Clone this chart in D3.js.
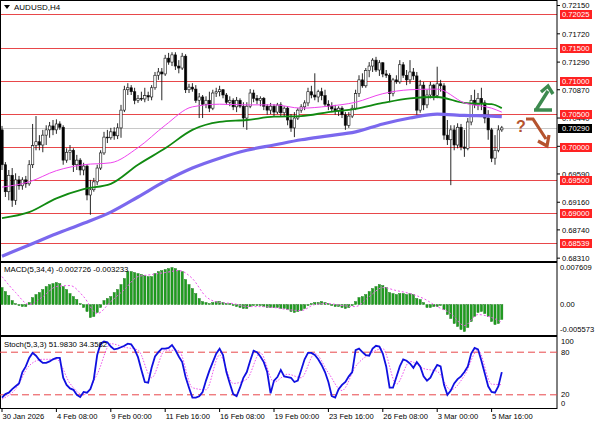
<!DOCTYPE html>
<meta charset="utf-8">
<style>
body { margin: 0; background: #fff; }
svg { display: block; font-family: "Liberation Sans", Arial, sans-serif; }
.lbl { font-size: 7.6px; fill: #000; }
.frame { fill: none; stroke: #000; stroke-width: 1; }
</style>
<body>
<svg id="chart" width="596" height="425"></svg>
<script src="https://d3js.org/d3.v7.min.js"></script>
<script>

// ---- data ----
const open0 = 0.7026;

const closes = [
0.6973, 0.6932, 0.6957, 0.6919, 0.6950, 0.6941, 0.6950, 0.6944, 0.6973, 0.7002,
0.7008, 0.7003, 0.7018, 0.7026, 0.7032, 0.7026, 0.7035, 0.7030, 0.6980, 0.6992,
0.6995, 0.6973, 0.6980, 0.6965, 0.6971, 0.6927, 0.6935, 0.6947, 0.6968, 0.6991,
0.7015, 0.7014, 0.7023, 0.7017, 0.7029, 0.7056, 0.7087, 0.7090, 0.7084, 0.7071,
0.7074, 0.7073, 0.7078, 0.7076, 0.7090, 0.7109, 0.7114, 0.7111, 0.7135, 0.7129,
0.7140, 0.7123, 0.7120, 0.7138, 0.7087, 0.7091, 0.7088, 0.7071, 0.7076, 0.7065,
0.7071, 0.7059, 0.7082, 0.7084, 0.7087, 0.7079, 0.7068, 0.7071, 0.7061, 0.7071,
0.7062, 0.7044, 0.7062, 0.7082, 0.7074, 0.7071, 0.7074, 0.7062, 0.7056, 0.7062,
0.7053, 0.7064, 0.7052, 0.7059, 0.7041, 0.7029, 0.7044, 0.7056, 0.7061, 0.7067,
0.7084, 0.7079, 0.7076, 0.7084, 0.7078, 0.7065, 0.7062, 0.7058, 0.7055, 0.7059,
0.7049, 0.7033, 0.7047, 0.7059, 0.7081, 0.7102, 0.7093, 0.7116, 0.7123, 0.7132,
0.7117, 0.7128, 0.7111, 0.7109, 0.7081, 0.7102, 0.7099, 0.7125, 0.7109, 0.7102,
0.7114, 0.7108, 0.7056, 0.7094, 0.7064, 0.7079, 0.7094, 0.7078, 0.7096, 0.7093,
0.7018, 0.7011, 0.7026, 0.7003, 0.7030, 0.7000, 0.6998, 0.7038, 0.7071, 0.7064,
0.7074, 0.7067, 0.7044, 0.7026, 0.6983, 0.6995, 0.7026, 0.7029
];

const highs = [
0.7032, 0.6977, 0.6965, 0.6968, 0.6960, 0.6956, 0.6954, 0.6956, 0.6980, 0.7035,
0.7047, 0.7018, 0.7026, 0.7033, 0.7038, 0.7041, 0.7042, 0.7039, 0.7033, 0.6998,
0.7003, 0.6998, 0.6988, 0.6983, 0.6976, 0.6974, 0.6950, 0.6953, 0.6973, 0.6995,
0.7023, 0.7026, 0.7029, 0.7030, 0.7036, 0.7064, 0.7093, 0.7097, 0.7094, 0.7090,
0.7079, 0.7084, 0.7090, 0.7084, 0.7094, 0.7114, 0.7120, 0.7120, 0.7140, 0.7143,
0.7144, 0.7144, 0.7132, 0.7143, 0.7141, 0.7096, 0.7097, 0.7094, 0.7082, 0.7079,
0.7077, 0.7084, 0.7087, 0.7090, 0.7093, 0.7088, 0.7082, 0.7077, 0.7074, 0.7076,
0.7074, 0.7068, 0.7068, 0.7088, 0.7087, 0.7079, 0.7077, 0.7076, 0.7065, 0.7067,
0.7065, 0.7067, 0.7068, 0.7062, 0.7062, 0.7050, 0.7053, 0.7059, 0.7065, 0.7071,
0.7090, 0.7093, 0.7112, 0.7087, 0.7090, 0.7087, 0.7071, 0.7068, 0.7064, 0.7062,
0.7062, 0.7053, 0.7053, 0.7064, 0.7087, 0.7109, 0.7112, 0.7120, 0.7129, 0.7135,
0.7137, 0.7132, 0.7129, 0.7117, 0.7112, 0.7105, 0.7109, 0.7132, 0.7129, 0.7117,
0.7132, 0.7120, 0.7114, 0.7102, 0.7099, 0.7087, 0.7099, 0.7096, 0.7122, 0.7102,
0.7097, 0.7041, 0.7033, 0.7033, 0.7036, 0.7035, 0.7026, 0.7044, 0.7079, 0.7087,
0.7082, 0.7090, 0.7071, 0.7056, 0.7029, 0.7018, 0.7033, 0.7032
];

const lows = [
0.6965, 0.6924, 0.6919, 0.6909, 0.6912, 0.6935, 0.6935, 0.6938, 0.6941, 0.6968,
0.6995, 0.6995, 0.6992, 0.7003, 0.7014, 0.7018, 0.7020, 0.7026, 0.6973, 0.6976,
0.6980, 0.6962, 0.6965, 0.6957, 0.6957, 0.6919, 0.6897, 0.6932, 0.6942, 0.6965,
0.6988, 0.7006, 0.7011, 0.7011, 0.7012, 0.7014, 0.7053, 0.7079, 0.7079, 0.7065,
0.7067, 0.7070, 0.7068, 0.7070, 0.7071, 0.7087, 0.7102, 0.7071, 0.7108, 0.7125,
0.7123, 0.7117, 0.7112, 0.7117, 0.7082, 0.7082, 0.7084, 0.7067, 0.7044, 0.7044,
0.7059, 0.7053, 0.7056, 0.7076, 0.7077, 0.7074, 0.7064, 0.7062, 0.7056, 0.7053,
0.7059, 0.7030, 0.7026, 0.7059, 0.7068, 0.7065, 0.7062, 0.7056, 0.7049, 0.7050,
0.7047, 0.7050, 0.7047, 0.7046, 0.7033, 0.7023, 0.7015, 0.7041, 0.7052, 0.7056,
0.7062, 0.7074, 0.7071, 0.7068, 0.7071, 0.7062, 0.7056, 0.7053, 0.7049, 0.7047,
0.7044, 0.7026, 0.7029, 0.7044, 0.7056, 0.7076, 0.7090, 0.7090, 0.7106, 0.7114,
0.7114, 0.7108, 0.7106, 0.7105, 0.7068, 0.7077, 0.7096, 0.7096, 0.7105, 0.7094,
0.7096, 0.7102, 0.7049, 0.7052, 0.7056, 0.7059, 0.7074, 0.7071, 0.7074, 0.7084,
0.7011, 0.7003, 0.6942, 0.6995, 0.6998, 0.6995, 0.6985, 0.6995, 0.7033, 0.7059,
0.7056, 0.7056, 0.7036, 0.7011, 0.6977, 0.6973, 0.6992, 0.7023
];

// moving averages, sampled every 8 bars (+ last bar)
const maBars = [0, 8, 16, 24, 32, 40, 48, 56, 64, 72, 80, 88, 96, 104, 112, 120, 128, 136, 144, 147];
const maFast = [0.6939, 0.6947, 0.6964, 0.6973, 0.6976, 0.6999, 0.7033, 0.7061, 0.7065, 0.7064,
                0.7064, 0.7059, 0.7062, 0.7068, 0.7081, 0.7087, 0.7088, 0.7067, 0.7059, 0.7053];
const maMid  = [0.6892, 0.6901, 0.6922, 0.6936, 0.6944, 0.6973, 0.6998, 0.7026, 0.7038, 0.7041,
                0.7046, 0.7047, 0.7053, 0.7058, 0.7067, 0.7074, 0.7076, 0.7067, 0.7065, 0.7059];
const maSlow = [0.6834, 0.6851, 0.6868, 0.6884, 0.6901, 0.6924, 0.6948, 0.6968, 0.6983, 0.6995,
                0.7003, 0.7011, 0.7017, 0.7023, 0.7035, 0.7044, 0.7050, 0.7048, 0.7047, 0.7046];

const levels = [0.72025, 0.71500, 0.71000, 0.70500, 0.70000, 0.69500, 0.69000, 0.68539];
const priceTicks = [0.72150, 0.71720, 0.71290, 0.70870, 0.70440, 0.70010, 0.69590, 0.69160, 0.68740, 0.68310];
const lastPrice = 0.70290;

const macdHist = [
 0.00311, 0.00238, 0.00165, 0.00073, 0.00018,-0.00018,-0.00037,-0.00037, 0.00037, 0.00128,
 0.00183, 0.00220, 0.00275, 0.00329, 0.00366, 0.00384, 0.00403, 0.00384, 0.00329, 0.00275,
 0.00201, 0.00146, 0.00092, 0.00018,-0.00055,-0.00128,-0.00238,-0.00220,-0.00146,-0.00055,
 0.00073, 0.00110, 0.00146, 0.00220, 0.00275, 0.00366, 0.00476, 0.00604, 0.00604, 0.00586,
 0.00567, 0.00549, 0.00531, 0.00512, 0.00512, 0.00567, 0.00604, 0.00622, 0.00641, 0.00659,
 0.00677, 0.00659, 0.00622, 0.00604, 0.00458, 0.00366, 0.00293, 0.00201, 0.00110, 0.00055,
 0.00037, 0.00018, 0.00037, 0.00055, 0.00055, 0.00037, 0.00018, 0.00018,-0.00018,-0.00037,
-0.00055,-0.00073,-0.00073,-0.00037,-0.00018,-0.00018,-0.00018,-0.00037,-0.00055,-0.00055,
-0.00055,-0.00055,-0.00073,-0.00073,-0.00092,-0.00128,-0.00146,-0.00128,-0.00110,-0.00073,
-0.00018, 0.00018, 0.00037, 0.00037, 0.00055, 0.00037, 0.00018,-0.00018,-0.00037,-0.00037,
-0.00055,-0.00073,-0.00055,-0.00018, 0.00055, 0.00128, 0.00146, 0.00183, 0.00238, 0.00293,
 0.00329, 0.00366, 0.00348, 0.00311, 0.00220, 0.00201, 0.00183, 0.00201, 0.00201, 0.00183,
 0.00201, 0.00183, 0.00110, 0.00092, 0.00037,-0.00055,-0.00055,-0.00037,-0.00037,-0.00018,
-0.00092,-0.00183,-0.00256,-0.00348,-0.00403,-0.00458,-0.00494,-0.00421,-0.00311,-0.00220,
-0.00146,-0.00128,-0.00165,-0.00220,-0.00311,-0.00366,-0.00348,-0.002726
];

// signal lines sampled every 4 bars (+ last bar)
const sigBars = d3.range(0, 145, 4).concat([147]);
const macdSignal = [0.00512, 0.00220, 0, 0.00146, 0.00329, 0.00348, 0.00146, -0.00165, 0.00055, 0.00275,
  0.00512, 0.00549, 0.00586, 0.00622, 0.00476, 0.00146, 0.00037, 0.00018, -0.00037, -0.00037,
  -0.00055, -0.00092, -0.00110, 0, 0.00018, -0.00018, -0.00037, 0.00146, 0.00311, 0.00256,
  0.00201, 0.00110, -0.00037, -0.00165, -0.00384, -0.00183, -0.00238, -0.003233];

const stochMain = [
16,21,23,28,32,36,52,60,72,79,
75,69,65,65,67,70,72,72,44,34,
29,27,20,17,24,23,28,42,76,92,
95,94,88,84,85,87,89,92,91,84,
73,55,38,37,58,74,80,85,85,86,
90,83,74,66,45,30,16,16,18,24,
40,54,66,78,85,76,52,36,21,18,
30,44,52,68,82,80,74,66,52,22,
40,45,55,46,45,44,38,40,55,70,
79,79,76,70,62,52,38,18,16,28,
34,38,46,52,83,85,80,76,75,85,
89,88,78,60,30,30,45,60,70,68,
64,58,66,60,46,40,44,54,62,60,
34,20,26,36,42,46,52,60,78,86,
84,68,50,32,24,23,32,51.983
];
const stochSignal = [14, 28, 61, 70, 70, 36, 20, 49, 92, 87, 83, 44, 83, 82, 30, 27, 76, 36, 42, 79,
  38, 49, 44, 78, 51, 26, 60, 77, 85, 35, 67, 57, 53, 27, 47, 83, 35, 34.3582];

const timeBars = [0, 16, 32, 48, 64, 80, 96, 112, 128, 144];
const timeLabels = ["30 Jan 2026", "4 Feb 08:00", "9 Feb 00:00", "11 Feb 16:00", "16 Feb 08:00",
  "19 Feb 00:00", "23 Feb 16:00", "26 Feb 08:00", "3 Mar 00:00", "5 Mar 16:00"];

// ---- layout ----
const plotRight = 557;
const main = {top: 0, bottom: 261};
const macdP = {top: 263, bottom: 335};
const stochP = {top: 337, bottom: 408};

const svg = d3.select("#chart");
const n = closes.length;

const x = d3.scaleLinear().domain([0, n - 1]).range([2, 501.8]);
const y = d3.scaleLinear().domain([0.68267, 0.72234]).range([main.bottom, main.top]);
const yMacd = d3.scaleLinear().domain([-0.005573, 0.007609]).range([macdP.bottom, macdP.top]);
const yStoch = d3.scaleLinear().domain([0, 100]).range([stochP.bottom + 1, stochP.top + 1]);

const bars = closes.map((c, i) => ({
  i: i, o: i === 0 ? open0 : closes[i - 1], h: highs[i], l: lows[i], c: c
}));

// clip for the main window
svg.append("clipPath").attr("id", "clipMain")
  .append("rect").attr("x", 0).attr("y", main.top).attr("width", plotRight).attr("height", main.bottom - main.top);

const gMain = svg.append("g").attr("clip-path", "url(#clipMain)");

// horizontal levels
gMain.selectAll(".lvl").data(levels).enter().append("line")
  .attr("x1", 0).attr("x2", plotRight)
  .attr("y1", d => Math.round(y(d)) + 0.5).attr("y2", d => Math.round(y(d)) + 0.5)
  .attr("stroke", "#e8474a").attr("stroke-width", 1);

gMain.append("line")
  .attr("x1", 0).attr("x2", plotRight)
  .attr("y1", Math.round(y(lastPrice)) + 0.5).attr("y2", Math.round(y(lastPrice)) + 0.5)
  .attr("stroke", "#c8c8c8").attr("stroke-width", 1);

// candles
const bw = 2.4;
gMain.selectAll(".wick").data(bars).enter().append("line")
  .attr("x1", d => x(d.i)).attr("x2", d => x(d.i))
  .attr("y1", d => y(d.h)).attr("y2", d => y(d.l))
  .attr("stroke", "#111").attr("stroke-width", 0.9);

gMain.selectAll(".body").data(bars).enter().append("rect")
  .attr("x", d => x(d.i) - bw / 2)
  .attr("y", d => y(Math.max(d.o, d.c)))
  .attr("width", bw)
  .attr("height", d => Math.max(0.8, Math.abs(y(d.o) - y(d.c))))
  .attr("fill", d => d.c >= d.o ? "#fff" : "#000")
  .attr("stroke", "#111").attr("stroke-width", 0.6);

// moving averages
const maLine = d3.line().x(d => x(d[0])).y(d => y(d[1])).curve(d3.curveMonotoneX);
gMain.append("path").datum(maBars.map((b, k) => [b, maSlow[k]]))
  .attr("d", maLine).attr("fill", "none").attr("stroke", "#7b68ee").attr("stroke-width", 3.2);
gMain.append("path").datum(maBars.map((b, k) => [b, maMid[k]]))
  .attr("d", maLine).attr("fill", "none").attr("stroke", "#118a11").attr("stroke-width", 1.8);
gMain.append("path").datum(maBars.map((b, k) => [b, maFast[k]]))
  .attr("d", maLine).attr("fill", "none").attr("stroke", "#ee44ee").attr("stroke-width", 1);

// forecast arrows
const green = "#3d8a4f", brown = "#b5532e";
svg.append("path")
  .attr("d", "M534,110 L552,110 M536,110 L548,91 M541,92 L548,86 L553,94")
  .attr("fill", "none").attr("stroke", green).attr("stroke-width", 3.4)
  .attr("stroke-linejoin", "miter").attr("stroke-linecap", "butt");
svg.append("path")
  .attr("d", "M526,119 L533,119 L546,139 M538,141 L547,146 L549,135")
  .attr("fill", "none").attr("stroke", brown).attr("stroke-width", 3.2)
  .attr("stroke-linejoin", "miter");
svg.append("text").attr("x", 516).attr("y", 132)
  .attr("font-size", 16).attr("font-weight", "bold").attr("fill", brown).text("?");

// frames
svg.append("rect").attr("class", "frame").attr("x", 0.5).attr("y", main.top + 0.5)
  .attr("width", plotRight - 0.5).attr("height", main.bottom - main.top);
svg.append("rect").attr("class", "frame").attr("x", 0.5).attr("y", macdP.top - 0.5)
  .attr("width", plotRight - 0.5).attr("height", macdP.bottom - macdP.top + 1);
svg.append("rect").attr("class", "frame").attr("x", 0.5).attr("y", stochP.top - 0.5)
  .attr("width", plotRight - 0.5).attr("height", stochP.bottom - stochP.top + 1);

// right price axis
const ax = svg.append("g");
ax.selectAll(".pt").data(priceTicks).enter().append("text")
  .attr("class", "lbl").attr("x", 562).attr("y", d => y(d) + 2.8).text(d => d.toFixed(5));
ax.selectAll(".ptk").data(priceTicks).enter().append("line")
  .attr("x1", plotRight).attr("x2", plotRight + 3)
  .attr("y1", d => y(d)).attr("y2", d => y(d)).attr("stroke", "#000");

const lvlLbl = ax.selectAll(".ll").data(levels).enter().append("g")
  .attr("transform", d => "translate(0," + (Math.round(y(d)) + 0.5) + ")");
lvlLbl.append("rect").attr("x", 560).attr("y", -4.5).attr("width", 32).attr("height", 9).attr("fill", "#f22");
lvlLbl.append("text").attr("class", "lbl").attr("x", 562).attr("y", 2.8)
  .style("fill", "#fff").text(d => d.toFixed(5));

const lp = ax.append("g").attr("transform", "translate(0," + (Math.round(y(lastPrice)) + 0.5) + ")");
lp.append("rect").attr("x", 558).attr("y", -4.5).attr("width", 34).attr("height", 9).attr("fill", "#000");
lp.append("text").attr("class", "lbl").attr("x", 562).attr("y", 2.8).style("fill", "#fff").text(lastPrice.toFixed(5));

// title
svg.append("path").attr("d", "M4,5 L10,5 L7,9 Z").attr("fill", "#000");
svg.append("text").attr("class", "lbl").attr("x", 14).attr("y", 10).style("font-size", "8px").text("AUDUSD,H4");

// ---- MACD window ----
const gMacd = svg.append("g");
gMacd.selectAll(".hb").data(macdHist).enter().append("rect")
  .attr("x", (d, i) => x(i) - 1.1)
  .attr("y", d => Math.min(yMacd(d), yMacd(0)))
  .attr("width", 2.2)
  .attr("height", d => Math.max(0.6, Math.abs(yMacd(d) - yMacd(0))))
  .attr("fill", "#1e9e1e").attr("stroke", "#0b6e0b").attr("stroke-width", 0.4);

gMacd.append("path").datum(sigBars.map((b, k) => [b, macdSignal[k]]))
  .attr("d", d3.line().x(d => x(d[0])).y(d => yMacd(d[1])).curve(d3.curveMonotoneX))
  .attr("fill", "none").attr("stroke", "#ee55ee").attr("stroke-width", 1).attr("stroke-dasharray", "2,2");

gMacd.append("text").attr("class", "lbl").attr("x", 4).attr("y", 272).style("font-size", "7.8px")
  .text("MACD(5,34,4) -0.002726 -0.003233");

[[0.007609, "0.007609"], [0, "0.00"], [-0.005573, "-0.005573"]].forEach(function(t, k) {
  const ty = k === 0 ? yMacd(t[0]) + 7 : (k === 2 ? yMacd(t[0]) - 3 : yMacd(t[0]) + 2.8);
  gMacd.append("text").attr("class", "lbl").attr("x", 560).attr("y", ty).text(t[1]);
});

// ---- Stochastic window ----
const gSt = svg.append("g");
[80, 20].forEach(function(v) {
  gSt.append("line").attr("x1", 0).attr("x2", plotRight)
    .attr("y1", yStoch(v)).attr("y2", yStoch(v))
    .attr("stroke", "#e8474a").attr("stroke-width", 1).attr("stroke-dasharray", "7,4");
});
gSt.append("path").datum(sigBars.map((b, k) => [b, stochSignal[k]]))
  .attr("d", d3.line().x(d => x(d[0])).y(d => yStoch(d[1])).curve(d3.curveMonotoneX))
  .attr("fill", "none").attr("stroke", "#ee55ee").attr("stroke-width", 1).attr("stroke-dasharray", "1.5,1.5");
gSt.append("path").datum(stochMain)
  .attr("d", d3.line().x((d, i) => x(i)).y(d => yStoch(d)))
  .attr("fill", "none").attr("stroke", "#1010e0").attr("stroke-width", 1.8);

gSt.append("text").attr("class", "lbl").attr("x", 4).attr("y", 347).style("font-size", "7.8px")
  .text("Stoch(5,3,3) 51.9830 34.3582");

[[100, 344], [80, 355], [20, 397], [0, 406]].forEach(function(t) {
  gSt.append("text").attr("class", "lbl").attr("x", 561).attr("y", t[1]).text(t[0]);
});

// ---- time axis ----
const gT = svg.append("g");
gT.selectAll(".tt").data(timeBars).enter().append("line")
  .attr("x1", d => x(d)).attr("x2", d => x(d))
  .attr("y1", stochP.bottom).attr("y2", stochP.bottom + 4).attr("stroke", "#000");
gT.selectAll(".tl").data(timeBars).enter().append("text")
  .attr("class", "lbl").attr("x", d => x(d) + 0.5).attr("y", 419)
  .text((d, k) => timeLabels[k]);

</script>
</body>
